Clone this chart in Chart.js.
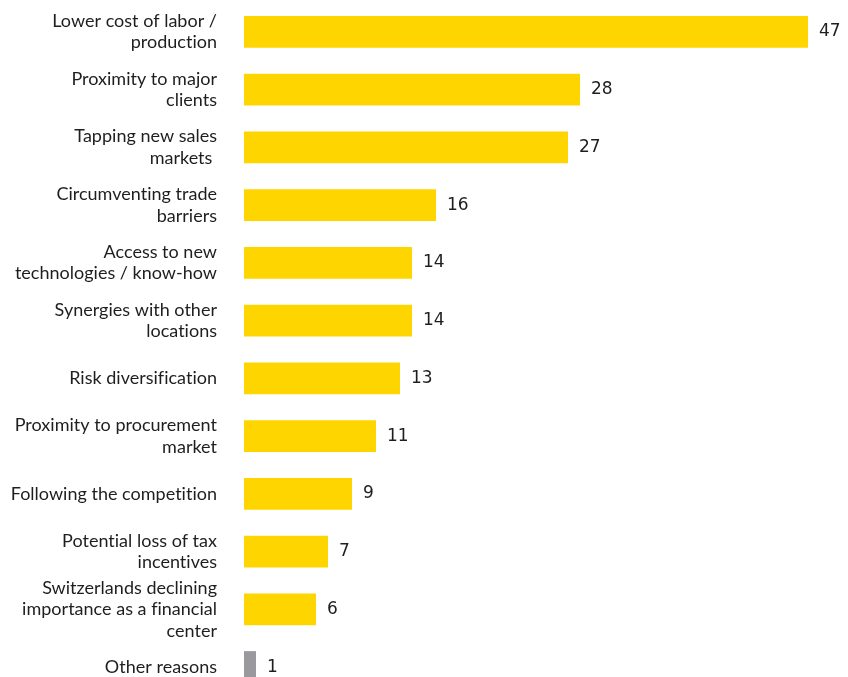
<!DOCTYPE html>
<html>
<head>
<meta charset="utf-8">
<script src="https://cdn.jsdelivr.net/npm/chart.js@4/dist/chart.umd.min.js"></script>
<style>
  html, body { margin: 0; padding: 0; background: #fff; overflow: hidden; }
  #wrap { width: 848px; height: 700px; }
</style>
</head>
<body>
<div id="wrap"><canvas id="reasons" width="848" height="700"></canvas></div>
<script>
// ── Data ───────────────────────────────────────────────
const reasons = [
    ['Lower cost of labor /', 'production'],
    ['Proximity to major', 'clients'],
    ['Tapping new sales', 'markets '],
    ['Circumventing trade', 'barriers'],
    ['Access to new', 'technologies / know-how'],
    ['Synergies with other', 'locations'],
    'Risk diversification',
    ['Proximity to procurement', 'market'],
    'Following the competition',
    ['Potential loss of tax', 'incentives'],
    ['Switzerlands declining', 'importance as a financial', 'center'],
    'Other reasons'
];
const mentions = [47, 28, 27, 16, 14, 14, 13, 11, 9, 7, 6, 1];
const otherIndex = 11;

const YELLOW = '#ffd500';
const GREY = '#9a9a9e';
const TEXT = '#1e1e1e';

// tiny letter spacing keeps Lato from using its "ti"/"fi" ligatures
const noLigatures = {
    id: 'noLigatures',
    beforeDraw(chart) { chart.ctx.letterSpacing = '0.01px'; }
};

// value printed just right of each bar
const valueLabels = {
    id: 'valueLabels',
    afterDatasetsDraw(chart) {
        const ctx = chart.ctx;
        const meta = chart.getDatasetMeta(0);
        ctx.save();
        ctx.font = '17px "DejaVu Sans"';
        ctx.fillStyle = TEXT;
        ctx.textAlign = 'left';
        ctx.textBaseline = 'middle';
        meta.data.forEach((bar, i) => {
            ctx.fillText(String(mentions[i]), bar.x + 11, bar.y);
        });
        ctx.restore();
    }
};

new Chart(document.getElementById('reasons'), {
    type: 'bar',
    data: {
        labels: reasons,
        datasets: [{
            data: mentions,
            backgroundColor: mentions.map((v, i) => i === otherIndex ? GREY : YELLOW),
            borderWidth: 0,
            barPercentage: 0.554,
            categoryPercentage: 1
        }]
    },
    options: {
        indexAxis: 'y',
        responsive: false,
        animation: false,
        layout: { padding: { top: 3, bottom: 4, left: 0, right: 4 } },
        plugins: {
            legend: { display: false },
            tooltip: { enabled: false }
        },
        scales: {
            x: {
                min: 0,
                max: 50,
                display: false
            },
            y: {
                grid: { display: false, drawTicks: false },
                border: { display: false },
                afterFit(scale) {
                    scale.width = 244;
                    scale.paddingTop = 0;
                    scale.paddingBottom = 0;
                },
                ticks: {
                    autoSkip: false,
                    padding: 27,
                    color: TEXT,
                    font: { family: 'Lato', size: 18, lineHeight: 1.2 }
                }
            }
        }
    },
    plugins: [noLigatures, valueLabels]
});
</script>
</body>
</html>
